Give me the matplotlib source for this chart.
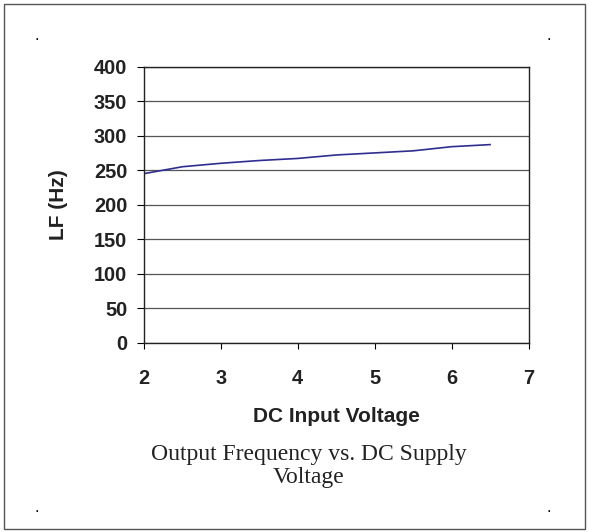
import matplotlib
matplotlib.use("Agg")
import matplotlib.pyplot as plt
from matplotlib.patches import Rectangle

# values
voltage = [2.0, 2.5, 3.0, 3.5, 4.0, 4.5, 5.0, 5.5, 6.0, 6.5]
freq_hz = [245, 255, 260, 264, 267, 272, 275, 278, 284, 287]
x_ticks = [2, 3, 4, 5, 6, 7]
y_ticks = [0, 50, 100, 150, 200, 250, 300, 350, 400]

W, H = 589, 532
fig = plt.figure(figsize=(W / 100, H / 100), dpi=100)

# outer frame
fig.patches.append(Rectangle((4 / W, 1 - 529 / H), 581 / W, 525 / H,
                             transform=fig.transFigure, fill=False,
                             edgecolor="#555555", linewidth=1.0))
# small corner dots
for px, py in [(37, 40), (549, 40), (37, 512), (549, 512)]:
    fig.text(px / W, 1 - py / H, ".", ha="center", va="baseline",
             fontsize=12, family="Liberation Sans")

ax = fig.add_axes([144 / W, 1 - 343 / H, 384.5 / W, 276.5 / H])
ax.plot(voltage, freq_hz, color="#2e2e90", linewidth=1.2)

ax.set_xlim(2, 7)
ax.set_ylim(0, 400)
ax.set_xticks(x_ticks)
ax.set_yticks(y_ticks)
ax.yaxis.grid(True, color="#555555", linewidth=0.9)
ax.set_axisbelow(True)
for s in ax.spines.values():
    s.set_color("#222222")
    s.set_linewidth(1.0)

ax.tick_params(axis="x", direction="out", length=4, width=0.8, pad=15,
               labelsize=14.4)
ax.tick_params(axis="y", direction="out", length=5, width=0.8, pad=7,
               labelsize=14.4)
for lab in ax.get_xticklabels() + ax.get_yticklabels():
    lab.set_fontfamily("Liberation Sans")
    lab.set_fontweight("bold")
    lab.set_color("#222222")

fig.text(336 / W, 1 - 422 / H, "DC Input Voltage", ha="center", va="baseline",
         fontsize=15, fontweight="bold", family="Liberation Sans",
         color="#222222")
fig.text(58 / W, 1 - 205 / H, "LF (Hz)", ha="center", va="center",
         rotation=90, fontsize=15, fontweight="bold",
         family="Liberation Sans", color="#222222")

fig.text(308.5 / W, 1 - 460 / H, "Output Frequency vs. DC Supply",
         ha="center", va="baseline", fontsize=17,
         family="Liberation Serif", color="#222222")
fig.text(308.5 / W, 1 - 483.5 / H, "Voltage",
         ha="center", va="baseline", fontsize=17,
         family="Liberation Serif", color="#222222")

fig.savefig("out.png", dpi=100)
